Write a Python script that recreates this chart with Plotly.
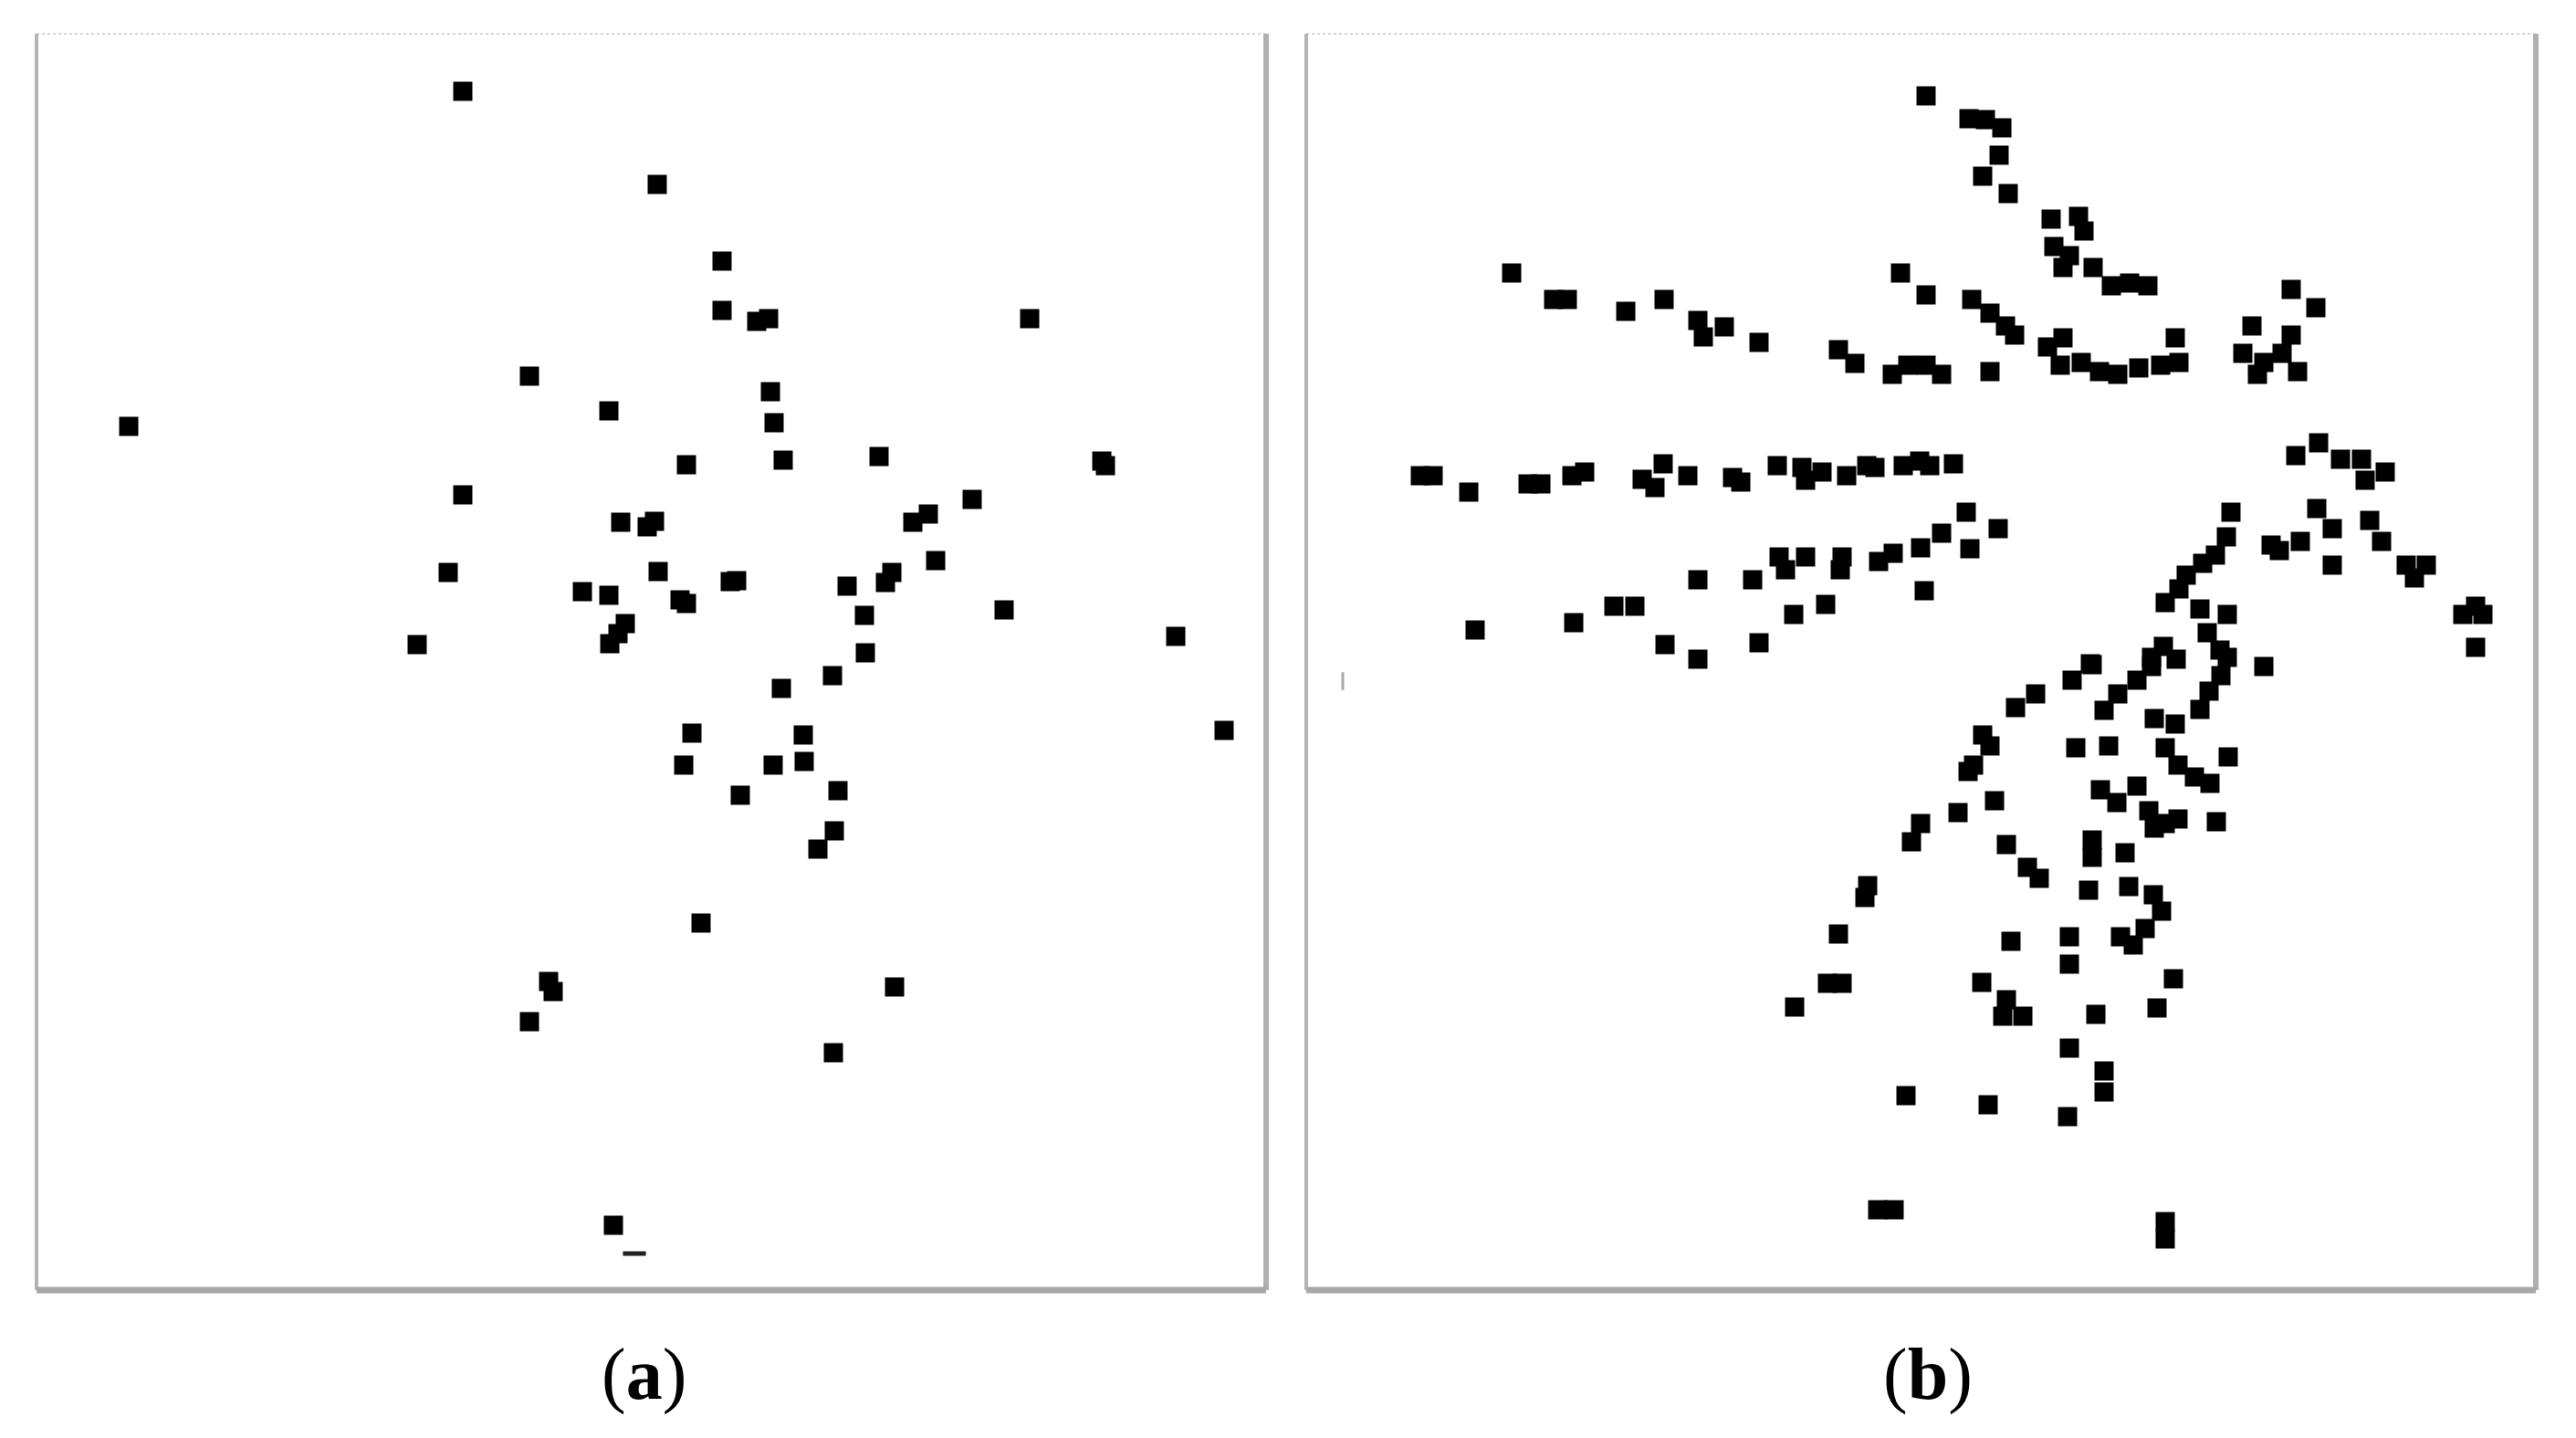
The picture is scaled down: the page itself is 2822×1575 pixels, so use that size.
import plotly.graph_objects as go

PAGE_W, PAGE_H = 2822, 1575
OFF = 8  # default body margin of the html page
W, H = PAGE_W - OFF, PAGE_H - OFF

# Panel (a) point positions (image-space units, x right, y down)
a_x = [507, 720, 791, 791, 829, 842, 1128, 580, 844, 667, 141, 848, 752, 858, 963, 1207, 1211,
       507, 1065, 1000, 1017, 680, 709, 717, 721, 491, 638, 667, 745, 752, 800, 807, 928, 977,
       970, 1025, 1100, 947, 685, 677, 668, 457, 1288, 948, 912, 856, 758, 880, 881, 1341, 749,
       847, 811, 918, 914, 896, 768, 980, 913, 601, 606, 580, 672]
a_y = [100, 202, 286, 340, 352, 349, 349, 412, 429, 450, 467, 463, 509, 504, 500, 505, 510,
       542, 547, 572, 563, 572, 577, 571, 626, 627, 648, 652, 657, 661, 637, 636, 642, 627,
       638, 614, 668, 674, 683, 694, 705, 706, 697, 715, 740, 754, 803, 805, 834, 800, 838,
       838, 871, 866, 910, 930, 1011, 1081, 1153, 1075, 1086, 1119, 1342]

# small residual marks
a_dash_x = [695]
a_dash_y = [1373]
b_tick_x = [1471]
b_tick_y = [746]

# Panel (b) point positions
b_x = [2110, 2157, 2175, 2193, 2190, 2172, 2200, 2247, 2277, 2283, 2250, 2267, 2260,
       2293, 2313, 2333, 2353,
       1656, 1702, 1717, 1781, 1823, 1860, 1889, 1866, 1927, 2014, 2032,
       2073, 2090, 2110, 2127, 2082, 2110, 2160, 2180, 2197, 2207, 2180,
       2243, 2260, 2257, 2280, 2300, 2320, 2343, 2367, 2383, 2387,
       2510, 2537, 2467, 2510, 2457, 2480, 2500, 2517, 2473,
       1556, 1570, 1609, 1674, 1688, 1722, 1736, 1799, 1822, 1813, 1849, 1898, 1907,
       1947, 1974, 1978, 1996, 2023, 2045, 2054, 2085, 2103, 2114, 2140,
       2515, 2540, 2564, 2587, 2591, 2613, 2538, 2555, 2520, 2488, 2555, 2497, 2596, 2609,
       2636, 2658, 2645, 2698, 2720, 2712, 2712,
       2154, 2189, 2158, 2127, 2104, 2074, 2058, 2018, 2016, 1978, 1949, 1956, 1920, 1860,
       2000, 1965, 2108, 1768, 1791, 1724, 1616, 1824, 1860, 1927,
       2444, 2439, 2427, 2413, 2395, 2387, 2372, 2410, 2440, 2418, 2432, 2370, 2384, 2357,
       2290, 2270, 2480, 2341, 2357, 2320, 2305, 2292, 2230, 2208,
       2440, 2433, 2420, 2410, 2360, 2383, 2172, 2180, 2156, 2162, 2185, 2145, 2104, 2094,
       2046, 2043, 2014, 2002, 2018, 1966, 2088, 2057, 2075,
       2274, 2310, 2372, 2386, 2404, 2421, 2441, 2301, 2319, 2341, 2354, 2372, 2386, 2360,
       2428, 2292, 2292, 2328, 2198, 2221, 2234, 2288, 2332, 2359, 2368, 2350, 2323, 2337,
       2203, 2267, 2267, 2171, 2198, 2194, 2216, 2296, 2381, 2363, 2267, 2305, 2305, 2265,
       2178, 2372, 2372]
b_y = [105, 130, 131, 140, 170, 193, 212, 240, 237, 253, 270, 280, 293,
       293, 313, 310, 313,
       299, 328, 328, 341, 328, 351, 358, 369, 375, 383, 398,
       410, 400, 400, 410, 299, 323, 328, 343, 357, 367, 407,
       380, 370, 400, 397, 407, 410, 403, 400, 370, 397,
       317, 337, 357, 367, 387, 397, 387, 407, 410,
       521, 521, 539, 530, 530, 521, 517, 525, 508, 534, 521, 523, 528,
       510, 512, 526, 517, 521, 510, 512, 510, 505, 510, 508,
       499, 485, 503, 503, 526, 517, 557, 579, 593, 597, 619, 603, 570, 593,
       619, 619, 633, 673, 673, 664, 709,
       561, 579, 601, 584, 600, 606, 615, 610, 624, 610, 610, 624, 635, 635,
       662, 673, 647, 664, 664, 682, 690, 706, 722, 704,
       561, 588, 608, 617, 630, 645, 660, 667, 673, 693, 712, 708, 722, 720,
       727, 745, 730, 745, 730, 760, 778, 728, 760, 775,
       720, 740, 757, 777, 787, 793, 805, 817, 845, 838, 877, 890, 902, 922,
       970, 983, 1023, 1077, 1077, 1103, 1200, 1325, 1325,
       819, 817, 819, 838, 851, 858, 829, 865, 879, 861, 888, 902, 897, 907,
       900, 920, 939, 934, 925, 950, 962, 975, 971, 980, 998, 1017, 1026, 1035,
       1031, 1026, 1056, 1076, 1095, 1113, 1113, 1111, 1072, 1104, 1148, 1173, 1196, 1223,
       1210, 1338, 1357]

panel_labels = ["a", "b"]

# panel frames in page pixels
A_L, A_R = 40, 1387
B_L, B_R = 1431, 2778
TOP, BOT = 37, 1413
LABEL_Y = 1505
LABEL_X = [705, 2112]


def px(p):
    return (p - OFF) / W


def py(p):
    return 1 - (p - OFF) / H


fig = go.Figure()
mk = dict(symbol="square", size=21, color="black", line=dict(width=0))
fig.add_trace(go.Scatter(x=a_x, y=a_y, mode="markers", marker=mk, xaxis="x", yaxis="y",
                         showlegend=False, hoverinfo="skip"))
fig.add_trace(go.Scatter(x=a_dash_x, y=a_dash_y, mode="markers",
                         marker=dict(symbol="line-ew", size=18, line=dict(width=5, color="#222")),
                         xaxis="x", yaxis="y", showlegend=False, hoverinfo="skip"))
fig.add_trace(go.Scatter(x=b_x, y=b_y, mode="markers", marker=mk, xaxis="x2", yaxis="y2",
                         showlegend=False, hoverinfo="skip"))
fig.add_trace(go.Scatter(x=b_tick_x, y=b_tick_y, mode="markers",
                         marker=dict(symbol="line-ns", size=14, line=dict(width=3, color="#aaaaaa")),
                         xaxis="x2", yaxis="y2", showlegend=False, hoverinfo="skip"))

ax_common = dict(showgrid=False, zeroline=False, showticklabels=False, ticks="", showline=False)
fig.update_layout(
    width=W, height=H,
    margin=dict(l=0, r=0, t=0, b=0),
    paper_bgcolor="white", plot_bgcolor="white",
    xaxis=dict(domain=[px(A_L), px(A_R)], range=[A_L, A_R], **ax_common),
    yaxis=dict(domain=[py(BOT), py(TOP)], range=[BOT, TOP], **ax_common),
    xaxis2=dict(domain=[px(B_L), px(B_R)], range=[B_L, B_R], **ax_common),
    yaxis2=dict(domain=[py(BOT), py(TOP)], range=[BOT, TOP], anchor="x2", **ax_common),
)

shapes = []
for L, R in [(A_L, A_R), (B_L, B_R)]:
    x0, x1 = px(L), px(R)
    y0, y1 = py(BOT), py(TOP)
    shapes.append(dict(type="line", xref="paper", yref="paper", x0=x0, x1=x1, y0=y1, y1=y1,
                       line=dict(color="#d4d4d4", width=2, dash="dot")))
    shapes.append(dict(type="line", xref="paper", yref="paper", x0=x0, x1=x0, y0=y0, y1=y1,
                       line=dict(color="#b4b4b4", width=4)))
    shapes.append(dict(type="line", xref="paper", yref="paper", x0=x1, x1=x1, y0=y0, y1=y1,
                       line=dict(color="#b0b0b0", width=6)))
    shapes.append(dict(type="line", xref="paper", yref="paper", x0=x0, x1=x1, y0=y0, y1=y0,
                       line=dict(color="#a8a8a8", width=7)))
fig.update_layout(shapes=shapes)

for lab, lx in zip(panel_labels, LABEL_X):
    fig.add_annotation(x=px(lx), y=py(LABEL_Y), xref="paper", yref="paper",
                       text=f"(<b>{lab}</b>)", showarrow=False,
                       font=dict(family="Liberation Serif", size=80, color="black"),
                       xanchor="center", yanchor="middle")

fig.write_html("out.html")
